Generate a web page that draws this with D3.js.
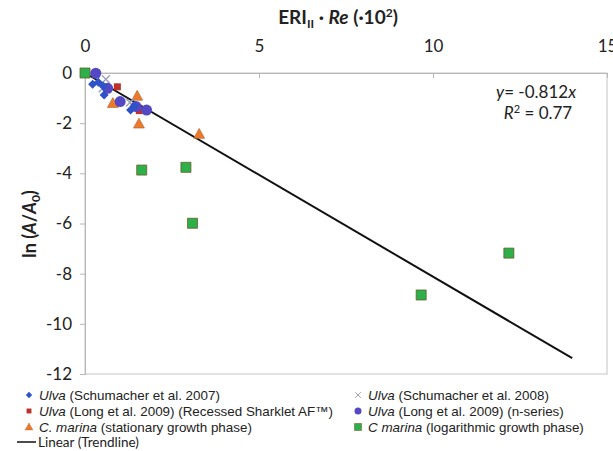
<!DOCTYPE html>
<html>
<head>
<meta charset="utf-8">
<script src="https://cdn.jsdelivr.net/npm/d3@7"></script>
<style>
  body { margin: 0; background: #fff; }
  svg { display: block; }
</style>
</head>
<body>
<svg id="chart"></svg>
<script>
// data (x = ERI_II * Re /100, y = ln(A/A0))
var ulva2007 = [[0.22, -0.45], [0.38, -0.37], [0.52, -0.52], [0.55, -0.88], [1.31, -1.48], [1.42, -1.30]];
var ulva2008 = [[0.60, -0.25], [0.51, -0.61], [1.29, -1.18]];
var ulvaRecessed = [[0.93, -0.55], [1.56, -1.50]];
var ulvaNseries = [[0.31, -0.01], [0.65, -0.61], [1.01, -1.14], [1.47, -1.34], [1.77, -1.48]];
var marinaStat = [[0.80, -1.21], [1.50, -0.92], [1.55, -2.03], [3.28, -2.44]];
var marinaLog = [[0, 0], [1.63, -3.87], [2.90, -3.76], [3.09, -5.99], [9.66, -8.85], [12.18, -7.18]];
var slope = -0.812;
var trendX = [0, 14];
var xTicks = [0, 5, 10, 15];
var yTicks = [0, -2, -4, -6, -8, -10, -12];

var W = 613, H = 451;
var svg = d3.select('#chart').attr('width', W).attr('height', H);

var x = d3.scaleLinear().domain([0, 15]).range([85, 607]);
var y = d3.scaleLinear().domain([-12, 0]).range([374, 73]);

var tickFont = 'Lato, "Open Sans", sans-serif';

// plot frame (right + bottom)
svg.append('rect')
    .attr('x', x(0)).attr('y', y(0))
    .attr('width', x(15) - x(0)).attr('height', y(-12) - y(0))
    .attr('fill', 'none').attr('stroke', '#c4c4c4');

// y axis on the left
var yAxis = d3.axisLeft(y).tickValues(yTicks).tickSize(5).tickPadding(8)
    .tickFormat(function(d) { return d; });
var gy = svg.append('g').attr('transform', 'translate(' + x(0) + ',0)').call(yAxis);
gy.selectAll('path, line').attr('stroke', '#b8b8b8');
gy.selectAll('text').attr('font-family', tickFont).attr('font-size', 17).attr('fill', '#222');

// x axis crossing at y = 0, labels on top, ticks pointing down
var xAxis = d3.axisTop(x).tickValues(xTicks).tickSize(0).tickPadding(21);
var gx = svg.append('g').attr('transform', 'translate(0,' + y(0) + ')').call(xAxis);
gx.select('path').attr('stroke', '#b8b8b8');
gx.selectAll('text').attr('font-family', tickFont).attr('font-size', 17).attr('fill', '#222');
gx.selectAll('.tick').append('line').attr('y2', 5).attr('stroke', '#b8b8b8');

// trendline
svg.append('line')
    .attr('x1', x(trendX[0])).attr('y1', y(slope * trendX[0]))
    .attr('x2', x(trendX[1])).attr('y2', y(slope * trendX[1]))
    .attr('stroke', '#111').attr('stroke-width', 2);

// marker shapes
function diamond(s) { return 'M0,' + -s + 'L' + s + ',0L0,' + s + 'L' + -s + ',0Z'; }
function square(s) { return 'M' + -s + ',' + -s + 'H' + s + 'V' + s + 'H' + -s + 'Z'; }
function tri(s) { return 'M0,' + (-s * 1.05) + 'L' + s + ',' + (s * 0.75) + 'L' + -s + ',' + (s * 0.75) + 'Z'; }
function cross(s) { return 'M' + -s + ',' + -s + 'L' + s + ',' + s + 'M' + s + ',' + -s + 'L' + -s + ',' + s; }

var series = [
  { data: marinaLog, path: square(5), fill: '#2bb04a', stroke: '#6b5a2a', sw: 0.8 },
  { data: marinaStat, path: tri(5.5), fill: '#ec7a2a', stroke: '#b0602a', sw: 0.6 },
  { data: ulvaRecessed, path: square(3.5), fill: '#c0302a', stroke: '#c0302a', sw: 0 },
  { data: ulva2008, path: cross(4), fill: 'none', stroke: '#9aa0b8', sw: 1.4 },
  { data: ulvaNseries, path: null, fill: '#5548c4', stroke: '#5548c4', sw: 0 },
  { data: ulva2007, path: diamond(4.5), fill: '#2e52c8', stroke: '#2e52c8', sw: 0 }
];

series.forEach(function(s) {
  var g = svg.append('g');
  if (s.path === null) {
    g.selectAll('circle').data(s.data).enter().append('circle')
      .attr('cx', function(d) { return x(d[0]); })
      .attr('cy', function(d) { return y(d[1]); })
      .attr('r', 5.5).attr('fill', s.fill);
  } else {
    g.selectAll('path').data(s.data).enter().append('path')
      .attr('transform', function(d) { return 'translate(' + x(d[0]) + ',' + y(d[1]) + ')'; })
      .attr('d', s.path).attr('fill', s.fill)
      .attr('stroke', s.stroke).attr('stroke-width', s.sw);
  }
});

// equation box
var eq = svg.append('text').attr('x', 536).attr('y', 98).attr('text-anchor', 'middle')
    .attr('font-family', tickFont).attr('font-size', 17).attr('fill', '#222');
eq.append('tspan').attr('font-style', 'italic').text('y');
eq.append('tspan').text('= -0.812');
eq.append('tspan').attr('font-style', 'italic').text('x');
var r2 = svg.append('text').attr('x', 538).attr('y', 119).attr('text-anchor', 'middle')
    .attr('font-family', tickFont).attr('font-size', 17).attr('fill', '#222');
r2.append('tspan').attr('font-style', 'italic').text('R');
r2.append('tspan').attr('font-size', 11).attr('dy', -6).text('2');
r2.append('tspan').attr('dy', 6).text(' = 0.77');

// axis titles
var xt = svg.append('text').attr('x', 338).attr('y', 24).attr('text-anchor', 'middle')
    .attr('font-family', tickFont).attr('font-size', 19).attr('font-weight', 'bold').attr('fill', '#222');
xt.append('tspan').text('ERI');
xt.append('tspan').attr('font-size', 12).attr('dy', 4).text('II');
xt.append('tspan').attr('dy', -4).text(' · ');
xt.append('tspan').attr('font-style', 'italic').text('Re');
xt.append('tspan').text(' (·10');
xt.append('tspan').attr('font-size', 12).attr('dy', -7).text('2');
xt.append('tspan').attr('dy', 7).text(')');

var yt = svg.append('text').attr('transform', 'translate(36,224) rotate(-90)').attr('text-anchor', 'middle')
    .attr('font-family', tickFont).attr('font-size', 18).attr('font-weight', 'bold').attr('fill', '#222');
yt.append('tspan').text('ln (');
yt.append('tspan').attr('font-style', 'italic').text('A');
yt.append('tspan').text('/');
yt.append('tspan').attr('font-style', 'italic').text('A');
yt.append('tspan').attr('font-size', 12).attr('dy', 4).text('0');
yt.append('tspan').attr('dy', -4).text(')');

// legend
var legFont = '"Liberation Sans", Arial, sans-serif';
var legend = [
  { col: 0, row: 0, name: 'Ulva', rest: ' (Schumacher et al. 2007)', s: series[5] },
  { col: 1, row: 0, name: 'Ulva', rest: ' (Schumacher et al. 2008)', s: series[3] },
  { col: 0, row: 1, name: 'Ulva', rest: ' (Long et al. 2009) (Recessed Sharklet AF\u2122)', s: series[2] },
  { col: 1, row: 1, name: 'Ulva', rest: ' (Long et al. 2009) (n-series)', s: series[4] },
  { col: 0, row: 2, name: 'C. marina', rest: ' (stationary growth phase)', s: series[1] },
  { col: 1, row: 2, name: 'C marina', rest: ' (logarithmic growth phase)', s: series[0] }
];
var colX = [29, 358], rowY = [395, 411, 427];
legend.forEach(function(l) {
  var mx = colX[l.col], my = rowY[l.row];
  var m = svg.append('g').attr('transform', 'translate(' + mx + ',' + my + ') scale(0.7)');
  if (l.s.path === null) m.append('circle').attr('r', 5).attr('fill', l.s.fill);
  else m.append('path').attr('d', l.s.path).attr('fill', l.s.fill).attr('stroke', l.s.stroke).attr('stroke-width', l.s.sw);
  var t = svg.append('text').attr('x', mx + 10).attr('y', my + 5)
      .attr('font-family', legFont).attr('font-size', 13.4).attr('fill', '#222');
  t.append('tspan').attr('font-style', 'italic').text(l.name);
  t.append('tspan').text(l.rest);
});
svg.append('line').attr('x1', 17).attr('x2', 36).attr('y1', 442).attr('y2', 442)
    .attr('stroke', '#111').attr('stroke-width', 1.5);
svg.append('text').attr('x', 38).attr('y', 446.5)
    .attr('font-family', tickFont).attr('font-size', 13.5).attr('fill', '#222')
    .text('Linear (Trendline)');
</script>
</body>
</html>
